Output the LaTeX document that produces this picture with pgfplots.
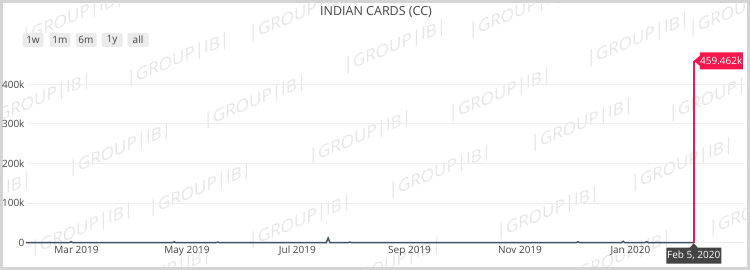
\documentclass[border=0pt]{standalone}
\usepackage{pgfplots}
\pgfplotsset{compat=1.18}
\usetikzlibrary{calc}
\usepackage{fontspec}
\setmainfont{Open Sans}
\definecolor{txt}{HTML}{444444}
\definecolor{gridc}{HTML}{EEEEEE}
\definecolor{linec}{HTML}{3D4F61}
\definecolor{spike}{HTML}{F5164B}
\definecolor{btn}{HTML}{EBEBEB}
\definecolor{framec}{HTML}{D4D4D4}
\definecolor{wm}{HTML}{E6E6E6}
\definecolor{tipc}{HTML}{444444}
\begin{document}
\begin{tikzpicture}[x=1pt,y=1pt]
\useasboundingbox (0,0) rectangle (750,270);
\fill[white] (0,0) rectangle (750,270);
% frame
\draw[framec, line width=2.6pt] (1.3,1.3) rectangle (748.7,268.7);
% watermarks
\begin{scope}
\clip (3,3) rectangle (747,267);
\foreach \x/\y in {73/18,300/15,520/12,740/10,
  -45/68,178/60,395/47,638/40,
  40/100,255/102,500/95,720/95,
  120/150,360/138,582/125,800/118,
  -20/200,200/190,440/172,682/165,
  82/230,300/222,548/213,760/210,
  160/275,390/265,620/258}
  \node[yslant=0.4, text=wm, font=\fontsize{17}{17}\selectfont, inner sep=0pt] at (\x,{270-\y}) {|GROUP|IB|};
\end{scope}
% title
\node[text=txt, font=\fontsize{12.5}{14}\selectfont] at (376,258) {INDIAN CARDS (CC)};
% range buttons
\foreach \cx/\lab in {33/1w,60/1m,86/6m,112/1y,138/all}
  \node[fill=btn, rounded corners=1.5pt, minimum width=21pt, minimum height=14pt, inner sep=0pt, text=txt, font=\fontsize{10}{12}\selectfont] at (\cx,230) {\lab};
\begin{axis}[
  at={(27pt,27.3pt)}, anchor=south west,
  scale only axis, width=718pt, height=194pt,
  xmin=-27.35, xmax=369.3, ymin=0, ymax=490000,
  axis line style={draw=none}, major tick style={draw=none}, minor tick style={draw=none},
  ytick={0,100000,200000,300000,400000},
  yticklabels={0,100k,200k,300k,400k},
  xtick={0,61,122,184,245,306},
  xticklabels={Mar 2019,May 2019,Jul 2019,Sep 2019,Nov 2019,Jan 2020},
  scaled y ticks=false,
  ymajorgrids, grid style={draw=gridc, line width=1pt},
  tick label style={font=\fontsize{10}{12}\selectfont, text=txt},
  yticklabel style={xshift=1pt},
  /pgf/number format/assume math mode=true,
  clip=false,
]
\addplot[linec, line width=1.4pt, no markers] coordinates {
  (-28,0) (-4,0) (-3,2500) (-2,0) (53,0) (54,2000) (55,0) (77,0) (78,1500) (79,0)
  (138,0) (139,12000) (140,0) (150,0) (151,1500) (152,0) (276,0) (277,2500) (278,0)
  (301,0) (302,3500) (303,0) (314,0) (315,2500) (316,0) (340,0) (341,0)};
\addplot[spike, line width=1.6pt, no markers] coordinates {(341,0) (341,459462)};
\coordinate (pk) at (axis cs:341,459462);
\coordinate (bt) at (axis cs:341,0);
\end{axis}
% hover labels
\fill[spike] (pk) -- ++(6,5) -- ++(0,3.5) -- ++(43,0) -- ++(0,-17) -- ++(-43,0) -- ++(0,3.5) -- cycle;
\node[text=white, font=\fontsize{10}{12}\selectfont] at ($(pk)+(27.5,0)$) {459.462k};
\fill[tipc] (bt) ++(0,-0.5) -- ++(4,-4.5) -- ++(23.5,0) -- ++(0,-16) -- ++(-55,0) -- ++(0,16) -- ++(23.5,0) -- cycle;
\node[text=white, font=\fontsize{10}{12}\selectfont] at ($(bt)+(0,-13)$) {Feb 5, 2020};
\end{tikzpicture}
\end{document}
